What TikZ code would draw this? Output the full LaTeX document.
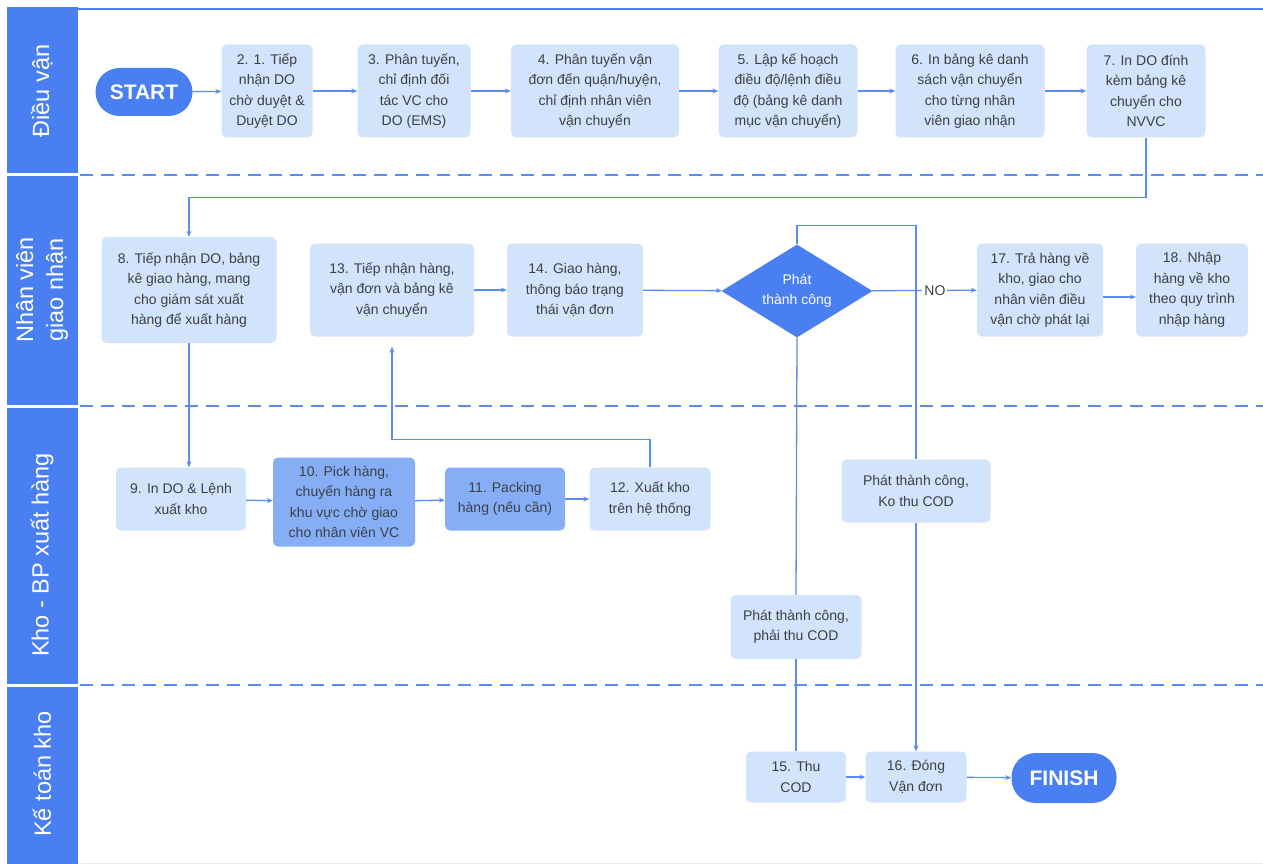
\documentclass[tikz,border=0pt]{standalone}
\usepackage{fontspec}
\setmainfont{Liberation Sans}
\usetikzlibrary{shapes.geometric,arrows.meta}
\definecolor{laneblue}{HTML}{4A7FF2}
\definecolor{boxlight}{HTML}{D2E3FC}
\definecolor{boxmid}{HTML}{86AEF7}
\definecolor{linkblue}{HTML}{5A8CF2}
\definecolor{txtgray}{HTML}{3C4043}
\tikzset{
	sz/.style 2 args={minimum width=#1pt, minimum height=#2pt},
	task/.style={rectangle, rounded corners=5pt, fill=boxlight, text=txtgray, align=center, inner sep=0pt, font=\fontsize{14}{20.5}\selectfont},
	taskmid/.style={task, fill=boxmid},
	term/.style={rectangle, rounded corners=24pt, fill=laneblue, text=white, inner sep=0pt, font=\bfseries\fontsize{21}{24}\selectfont},
	decide/.style={diamond, aspect=1.6, fill=laneblue, text=white, align=center, inner sep=0pt, font=\fontsize{14}{20}\selectfont},
	lanetext/.style={rotate=90, text=white, align=center, font=\fontsize{23.5}{30}\selectfont},
	lanesep/.style={linkblue, line width=2.5pt, dash pattern=on 13pt off 8pt},
	link/.style={draw=linkblue, line width=1.3pt},
	flow/.style={link, -{Stealth[length=6pt,width=5pt]}}
}

\begin{document}
\begin{tikzpicture}[x=1pt,y=-1pt]
	\useasboundingbox (0,0) rectangle (1263,864);
	% lanes
	\fill[laneblue] (7,7) rectangle (78,173);
	\fill[laneblue] (7,176) rectangle (78,405);
	\fill[laneblue] (7,408) rectangle (78,684);
	\fill[laneblue] (7,687) rectangle (78,864);
	\node[lanetext] at (42,91) {Điều vận};
	\node[lanetext] at (42,290) {Nhân viên\\giao nhận};
	\node[lanetext] at (42,555) {Kho - BP xuất hàng};
	\node[lanetext] at (42,774) {Kế toán kho};
	\draw[laneblue, line width=2.5pt] (78,9) -- (1263,9);
	\draw[lanesep] (80,175) -- (1263,175);
	\draw[lanesep] (80,406) -- (1263,406);
	\draw[lanesep] (80,685) -- (1263,685);
	\draw[black!8, line width=1pt] (78,863) -- (1263,863);
	% steps
	\node[term, sz={97}{48}] (start) at (144,92) {START};
	\node[task, sz={91}{93}] (n2) at (267,91) {2. 1. Tiếp\\nhận DO\\chờ duyệt \&\\Duyệt DO};
	\node[task, sz={113}{93}] (n3) at (414,91) {3. Phân tuyến,\\chỉ định đối\\tác VC cho\\DO (EMS)};
	\node[task, sz={168}{93}] (n4) at (595,91) {4. Phân tuyến vận\\đơn đến quận/huyện,\\chỉ định nhân viên\\vận chuyển};
	\node[task, sz={139}{93}] (n5) at (788,91) {5. Lập kế hoạch\\điều độ/lệnh điều\\độ (bảng kê danh\\mục vận chuyển)};
	\node[task, sz={149}{93}] (n6) at (970,91) {6. In bảng kê danh\\sách vận chuyển\\cho từng nhân\\viên giao nhận};
	\node[task, sz={119}{93}] (n7) at (1146,91) {7. In DO đính\\kèm bảng kê\\chuyển cho\\NVVC};
	\node[task, sz={175}{106}] (n8) at (189,290) {8. Tiếp nhận DO, bảng\\kê giao hàng, mang\\cho giám sát xuất\\hàng để xuất hàng};
	\node[task, sz={164}{93}] (n13) at (392,290) {13. Tiếp nhận hàng,\\vận đơn và bảng kê\\vận chuyển};
	\node[task, sz={136}{93}] (n14) at (575,290) {14. Giao hàng,\\thông báo trạng\\thái vận đơn};
	\node[decide, sz={151}{93}] (dec) at (797,291) {Phát\\thành công};
	\node[task, sz={126}{93}] (n17) at (1040,290) {17. Trả hàng về\\kho, giao cho\\nhân viên điều\\vận chờ phát lại};
	\node[task, sz={112}{93}] (n18) at (1192,290) {18. Nhập\\hàng về kho\\theo quy trình\\nhập hàng};
	\node[task, sz={130}{63}] (n9) at (181,499) {9. In DO \& Lệnh\\xuất kho};
	\node[taskmid, sz={142}{89}] (n10) at (344,502) {10. Pick hàng,\\chuyển hàng ra\\khu vực chờ giao\\cho nhân viên VC};
	\node[taskmid, sz={120}{63}] (n11) at (505,499) {11. Packing\\hàng (nếu cần)};
	\node[task, sz={121}{63}] (n12) at (650,499) {12. Xuất kho\\trên hệ thống};
	\node[task, sz={149}{63}] (nocod) at (916,491) {Phát thành công,\\Ko thu COD};
	\node[task, sz={131}{64}] (cod) at (796,627) {Phát thành công,\\phải thu COD};
	\node[task, sz={100}{51}] (n15) at (796,777) {15. Thu\\COD};
	\node[task, sz={101}{51}] (n16) at (916,777) {16. Đóng\\Vận đơn};
	\node[term, sz={105}{50}] (finish) at (1064,778) {FINISH};
	% connectors
	\draw[flow] (start) -- (n2);
	\draw[flow] (n2) -- (n3);
	\draw[flow] (n3) -- (n4);
	\draw[flow] (n4) -- (n5);
	\draw[flow] (n5) -- (n6);
	\draw[flow] (n6) -- (n7);
	\draw[flow] (n7.south) -- ++(0,60) -| (n8.north);
	\draw[flow] (n8.south) -- (n8.south |- n9.north);
	\draw[flow] (n9) -- (n10);
	\draw[flow] (n10) -- (n11);
	\draw[flow] (n11) -- (n12);
	\draw[flow] (n12.north) -- ++(0,-28) -| ([yshift=-10pt]n13.south);
	\draw[flow] (n13) -- (n14);
	\draw[flow] (n14) -- (dec);
	\draw[flow] (dec) -- node[pos=0.6, fill=white, inner sep=2pt, text=txtgray, font=\fontsize{14}{16}\selectfont] {NO} (n17);
	\draw[flow] (n17.east |- 0,297) -- (n18.west |- 0,297);
	\draw[link] (dec.north) -- ++(0,-19) -| (nocod.north);
	\draw[flow] (nocod) -- (n16);
	\draw[link] (dec.south) -- (cod.north);
	\draw[link] (cod) -- (n15);
	\draw[flow] (n15) -- (n16);
	\draw[flow] (n16) -- (finish);
\end{tikzpicture}
\end{document}
